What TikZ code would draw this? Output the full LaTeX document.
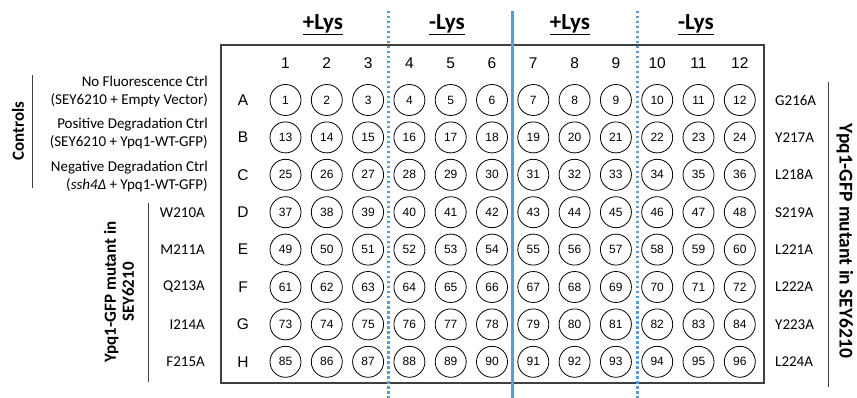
\documentclass[tikz,border=0pt]{standalone}
\usepackage{fontspec}
\setmainfont{Carlito}
\newfontfamily\arialf{Liberation Sans}
\definecolor{plateblue}{RGB}{91,155,213}
\definecolor{framegray}{RGB}{64,64,64}
\begin{document}
\begin{tikzpicture}[x=1pt,y=-1pt,
  well/.style={circle, draw=black, line width=0.8pt, minimum size=31pt, inner sep=0pt, font=\arialf\fontsize{12}{12}\selectfont},
  colnum/.style={font=\arialf\fontsize{15.5}{15.5}\selectfont, inner sep=0pt},
  rowlet/.style={font=\arialf\fontsize{15.5}{15.5}\selectfont, inner sep=0pt},
  hdr/.style={font=\fontsize{23}{23}\bfseries\selectfont, inner sep=0pt},
  sidelbl/.style={font=\fontsize{15}{18}\selectfont, align=right, anchor=east, inner sep=0pt},
  mutlbl/.style={font=\fontsize{15}{15}\selectfont, inner sep=0pt},
  grplbl/.style={font=\fontsize{17}{18}\bfseries\selectfont, align=center, inner sep=0pt},
  bracket/.style={draw=framegray, line width=1pt},
  frame/.style={draw=framegray, line width=1.5pt},
  solidsep/.style={draw=plateblue, line width=3pt},
  dotsep/.style={draw=plateblue, line width=3pt, dash pattern=on 2.5pt off 2.5pt}
]
\useasboundingbox (0,0) rectangle (857,398);
% plate frame
\draw[frame] (221,45) rectangle (764,383);
% column numbers
\foreach \c in {1,...,12}{
  \pgfmathsetmacro{\xc}{285.5+41.3*(\c-1)}
  \node[colnum] (c\c) at (\xc,63) {\c};
}
% rows
\foreach \r [count=\i] in {A,B,C,D,E,F,G,H}{
  \pgfmathsetmacro{\yr}{100+37.4*(\i-1)}
  \node[rowlet] (r\i) at (243,\yr) {\r};
  \foreach \c in {1,...,12}{
    \pgfmathsetmacro{\xc}{285.5+41.3*(\c-1)}
    \pgfmathtruncatemacro{\n}{(\i-1)*12+\c}
    \node[well] (w\i-\c) at (\xc,\yr) {\n};
  }
}
% separators
\coordinate (s1t) at (388,11);  \coordinate (s1b) at (388,398);
\coordinate (s2t) at (512.5,11); \coordinate (s2b) at (512.5,398);
\coordinate (s3t) at (637,11);  \coordinate (s3b) at (637,398);
\draw[dotsep] (s1t) -- (s1b);
\draw[solidsep] (s2t) -- (s2b);
\draw[dotsep] (s3t) -- (s3b);
% headers
\node[hdr] (h1) at (323,25) {\underline{+Lys}};
\node[hdr] (h2) at (447,25) {\underline{-Lys}};
\node[hdr] (h3) at (570,25) {\underline{+Lys}};
\node[hdr] (h4) at (696,25) {\underline{-Lys}};
% left control labels
\node[sidelbl] (l1) at (208,92) {No Fluorescence Ctrl\\(SEY6210 + Empty Vector)};
\node[sidelbl] (l2) at (208,134) {Positive Degradation Ctrl\\(SEY6210 + Ypq1-WT-GFP)};
\node[sidelbl] (l3) at (208,176.5) {Negative Degradation Ctrl\\(\textit{ssh4Δ} + Ypq1-WT-GFP)};
\coordinate (cbt) at (32,75); \coordinate (cbb) at (32,188);
\draw[bracket] (cbt) -- (cbb);
\node[grplbl, rotate=90] (ctrl) at (18,131) {Controls};
% left mutants
\foreach \m [count=\k from 4] in {W210A,M211A,Q213A,I214A,F215A}{
  \pgfmathsetmacro{\yr}{100+37.4*(\k-1)}
  \node[mutlbl, anchor=east] (ml\k) at (205,\yr) {\m};
}
\coordinate (mbt) at (148,203); \coordinate (mbb) at (148,382);
\draw[bracket] (mbt) -- (mbb);
\node[grplbl, rotate=90] (mgl) at (119,292) {Ypq1-GFP mutant in\\SEY6210};
% right mutants
\foreach \m [count=\k] in {G216A,Y217A,L218A,S219A,L221A,L222A,Y223A,L224A}{
  \pgfmathsetmacro{\yr}{100+37.4*(\k-1)}
  \node[mutlbl, anchor=west] (mr\k) at (775,\yr) {\m};
}
\coordinate (rbt) at (828,82); \coordinate (rbb) at (828,387);
\draw[bracket] (rbt) -- (rbb);
\node[grplbl, font=\fontsize{19.5}{20}\bfseries\selectfont, rotate=-90] (mgr) at (845,241) {Ypq1-GFP mutant in SEY6210};
\end{tikzpicture}
\end{document}
